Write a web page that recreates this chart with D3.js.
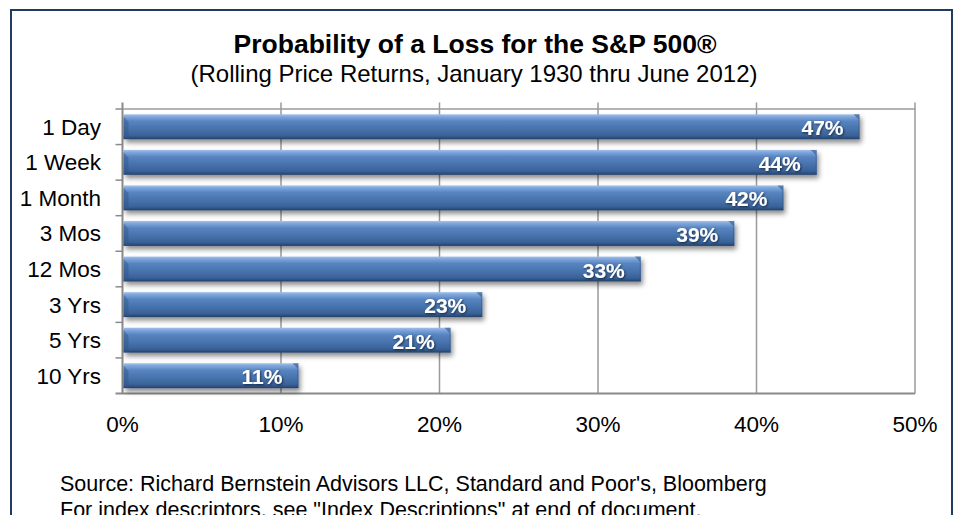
<!DOCTYPE html>
<html><head><meta charset="utf-8">
<script src="https://cdn.jsdelivr.net/npm/d3@7"></script>
<style>
html,body{margin:0;padding:0;background:#fff;overflow:hidden;}
svg{display:block;font-family:"Liberation Sans",Arial,sans-serif;}
</style></head>
<body>
<script>
const categories = ["1 Day","1 Week","1 Month","3 Mos","12 Mos","3 Yrs","5 Yrs","10 Yrs"];
const values = [46.5, 43.8, 41.7, 38.6, 32.7, 22.7, 20.7, 11.1];
const valueLabels = ["47%","44%","42%","39%","33%","23%","21%","11%"];
const xTicks = [0, 10, 20, 30, 40, 50];
const title = "Probability of a Loss for the S&P 500®";
const subtitle = "(Rolling Price Returns, January 1930 thru June 2012)";
const sourceLines = ["Source: Richard Bernstein Advisors LLC, Standard and Poor's, Bloomberg",
  "For index descriptors, see \"Index Descriptions\" at end of document."];

(function(){
const W = 959, H = 515;
const svg = d3.select("body").append("svg").attr("width", W).attr("height", H);
const defs = svg.append("defs");
const g1 = defs.append("linearGradient").attr("id","barGrad").attr("x1",0).attr("y1",0).attr("x2",0).attr("y2",1);
[[0,"#a2c0ea"],[0.1,"#7ea6dc"],[0.28,"#5884c0"],[0.6,"#4672ac"],[0.85,"#3a6298"],[0.94,"#2c4f7f"],[1,"#213d63"]]
  .forEach(([o,c])=>g1.append("stop").attr("offset",o).attr("stop-color",c));
const f = defs.append("filter").attr("id","shadow").attr("x","-5%").attr("y","-40%").attr("width","115%").attr("height","200%");
f.append("feDropShadow").attr("dx",2).attr("dy",3.5).attr("stdDeviation",2.5).attr("flood-color","#000").attr("flood-opacity",0.45);
const tf = defs.append("filter").attr("id","tshadow").attr("x","-10%").attr("y","-20%").attr("width","130%").attr("height","150%");
tf.append("feDropShadow").attr("dx",1).attr("dy",1).attr("stdDeviation",0.8).attr("flood-color","#000").attr("flood-opacity",0.6);

svg.append("rect").attr("x",11).attr("y",10).attr("width",941).attr("height",520)
  .attr("fill","none").attr("stroke","#1f3b5e").attr("stroke-width",2);

const pL = 122.5, pR = 915, pT = 109, pB = 393.5;
const x = d3.scaleLinear().domain([0,50]).range([pL,pR]);
const y = d3.scaleBand().domain(categories).range([pT,pB]).paddingInner(0.3).paddingOuter(0.15);

const grid = svg.append("g");
grid.selectAll("line.v").data(xTicks).join("line")
  .attr("x1",d=>x(d)).attr("x2",d=>x(d)).attr("y1",pT-6.5).attr("y2",pB)
  .attr("stroke",d=>d===0?"#8a8a8a":"#9a9a9a").attr("stroke-width",d=>d===0?2:1.5);
grid.append("line").attr("x1",pL).attr("x2",pR).attr("y1",pT).attr("y2",pT).attr("stroke","#9a9a9a").attr("stroke-width",1.5);
grid.append("line").attr("x1",pL-7).attr("x2",pR).attr("y1",pB).attr("y2",pB).attr("stroke","#8a8a8a").attr("stroke-width",2);
const step = y.step();
const bounds = categories.map(c => y(c) - step*y.paddingInner()/2);
grid.selectAll("line.t").data(bounds).join("line")
  .attr("x1",pL-7).attr("x2",pL).attr("y1",d=>d).attr("y2",d=>d)
  .attr("stroke","#8a8a8a").attr("stroke-width",1.5);

const bars = svg.append("g").selectAll("g").data(categories).join("g");
bars.append("rect")
  .attr("x",x(0)+1).attr("y",d=>y(d)).attr("width",(d,i)=>x(values[i])-x(0)-1).attr("height",y.bandwidth())
  .attr("fill","url(#barGrad)").attr("filter","url(#shadow)");
bars.append("path").attr("d",(d,i)=>{
  const xe = x(values[i]), y0=y(d), h=y.bandwidth();
  return `M${xe-6},${y0} L${xe},${y0} L${xe},${y0+h} L${xe-1},${y0+h} L${xe-1},${y0+5} Z`;
}).attr("fill","#2c4f80").attr("opacity",0.55);
bars.append("path").attr("d",(d,i)=>{
  const xs = x(0)+1, y0=y(d), h=y.bandwidth();
  return `M${xs},${y0+2} L${xs+5},${y0+8} L${xs+5},${y0+h-2} L${xs},${y0+h} Z`;
}).attr("fill","#2f5588").attr("opacity",0.45);
bars.append("text")
  .attr("x",(d,i)=>x(values[i])-16).attr("y",d=>y(d)+y.bandwidth()/2+8.5)
  .attr("text-anchor","end").attr("fill","#fff").attr("font-weight","bold").attr("font-size","21px")
  .attr("filter","url(#tshadow)")
  .text((d,i)=>valueLabels[i]);

svg.append("g").selectAll("text").data(categories).join("text")
  .attr("x",101).attr("y",d=>y(d)+y.bandwidth()/2+8)
  .attr("text-anchor","end").attr("font-size","22.5px").attr("fill","#000").text(d=>d);

svg.append("g").selectAll("text").data(xTicks).join("text")
  .attr("x",d=>x(d)).attr("y",432).attr("text-anchor","middle").attr("font-size","22.5px").attr("fill","#000")
  .text(d=>d+"%");

svg.append("text").attr("x",475).attr("y",53).attr("text-anchor","middle").attr("font-weight","bold")
  .attr("font-size","26.5px").attr("fill","#000").text(title);
svg.append("text").attr("x",474).attr("y",82).attr("text-anchor","middle")
  .attr("font-size","24px").attr("fill","#000").text(subtitle);

svg.append("g").selectAll("text").data(sourceLines).join("text")
  .attr("x",60).attr("y",(d,i)=>490.5+i*26).attr("font-size","21.5px").attr("fill","#000").text(d=>d);
})();
</script>
</body></html>
